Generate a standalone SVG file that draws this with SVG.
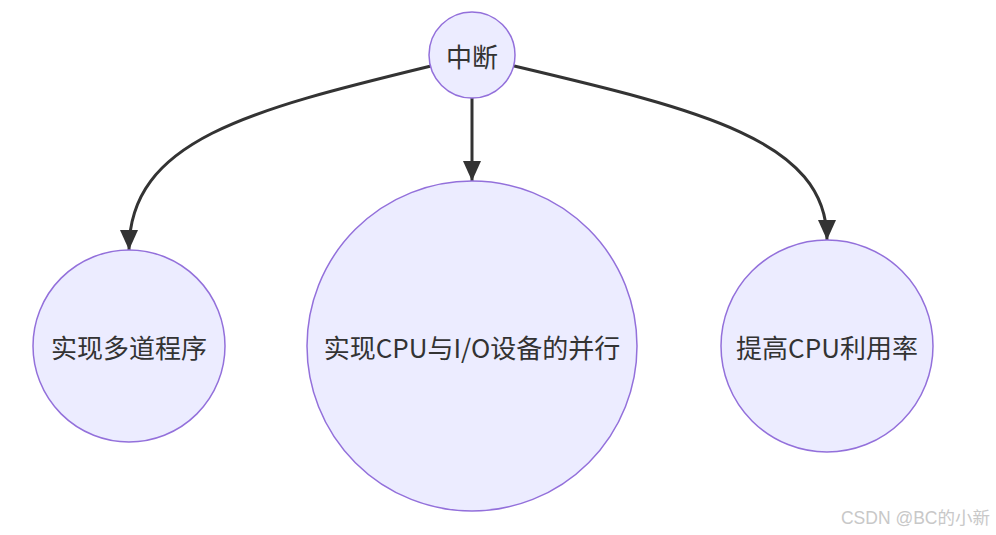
<svg xmlns="http://www.w3.org/2000/svg" width="996" height="535" viewBox="0 0 996 535">
<style>
.node circle{fill:#ECECFF;stroke:#9370DB;stroke-width:1.5}
.node text{font-family:"Noto Sans CJK SC","Liberation Sans",sans-serif;font-size:26px;fill:#333;text-anchor:middle;dominant-baseline:central}
.edge{fill:none;stroke:#333;stroke-width:3}
.wm{font-family:"Liberation Sans","Noto Sans CJK SC",sans-serif;font-size:17.5px;fill:#c8c8c8}
</style>
<defs>
<marker id="ah" viewBox="0 0 20 18" refX="20" refY="9" markerWidth="20" markerHeight="18" markerUnits="userSpaceOnUse" orient="auto">
<path d="M0,0 L20,9 L0,18 z" fill="#333"/>
</marker>
</defs>
<rect width="996" height="535" fill="#fff"/>
<g id="edges">
<path class="edge" d="M431,66 C250,110 129,140 129,250" marker-end="url(#ah)"/>
<path class="edge" d="M472,98 L472,181" marker-end="url(#ah)"/>
<path class="edge" d="M514,66 C700,110 827,140 827,240" marker-end="url(#ah)"/>
</g>
<g id="n0" class="node"><circle cx="472" cy="55" r="43"/><text x="472" y="55">中断</text></g>
<g id="n1" class="node"><circle cx="129" cy="346" r="96"/><text x="129" y="346">实现多道程序</text></g>
<g id="n2" class="node"><circle cx="472" cy="346" r="165"/><text x="472" y="346">实现CPU与I/O设备的并行</text></g>
<g id="n3" class="node"><circle cx="827" cy="346" r="106"/><text x="827" y="346">提高CPU利用率</text></g>
<text class="wm" x="990" y="524" text-anchor="end">CSDN @BC的小新</text>
</svg>
